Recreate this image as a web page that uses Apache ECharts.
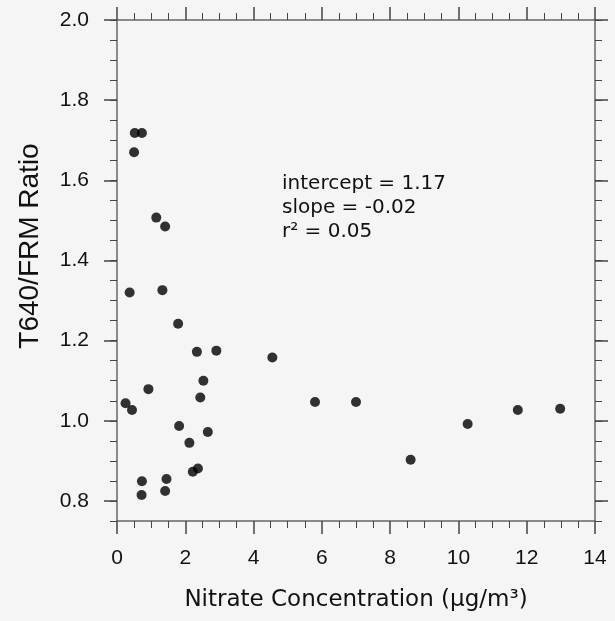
<!DOCTYPE html>
<html>
<head>
<meta charset="utf-8">
<script src="https://cdn.jsdelivr.net/npm/echarts@6/dist/echarts.min.js"></script>
<style>
  html, body { margin: 0; padding: 0; background: #f5f5f5; }
  #chart { width: 615px; height: 621px; }
</style>
</head>
<body>
<div id="chart"></div>
<script>
// 数据：硝酸盐浓度 vs T640/FRM 比值
const nitrate = [0.52, 0.73, 0.50, 1.15, 1.41, 0.37, 1.33, 1.79, 2.34, 2.91, 4.55,
  2.53, 0.92, 2.44, 0.25, 0.44, 5.80, 1.82, 2.66, 2.12, 2.22, 2.37, 0.73, 1.45,
  1.41, 0.72, 7.00, 8.60, 10.27, 11.74, 12.98];
const ratio = [1.718, 1.718, 1.670, 1.507, 1.485, 1.320, 1.326, 1.242, 1.172, 1.175, 1.158,
  1.100, 1.079, 1.058, 1.044, 1.027, 1.047, 0.987, 0.972, 0.945, 0.873, 0.881, 0.849, 0.855,
  0.825, 0.815, 1.047, 0.903, 0.992, 1.027, 1.030];
const yMajor = [0.8, 1.0, 1.2, 1.4, 1.6, 1.8, 2.0];
const statLines = ['intercept = 1.17', 'slope = -0.02', 'r\u00b2 = 0.05'];

const points = nitrate.map((x, i) => [x, ratio[i]]);

const chart = echarts.init(document.getElementById('chart'));

const axisCol = '#666';
const tickCol = '#444';
const labelFont = { fontFamily: 'Liberation Sans', fontSize: 21, color: '#111' };

// 横轴（下、上）
function xAxisOf(pos) {
  return {
    type: 'value', position: pos, min: 0, max: 14, interval: 2,
    axisLine: { show: true, onZero: false, lineStyle: { color: axisCol, width: 1.5 } },
    axisTick: { show: true, length: 13, lineStyle: { color: tickCol, width: 1.5 } },
    minorTick: { show: true, splitNumber: 4, length: 7, lineStyle: { color: tickCol, width: 1 } },
    splitLine: { show: false },
    axisLabel: pos === 'bottom'
      ? Object.assign({ show: true, margin: 27 }, labelFont)
      : { show: false },
    name: pos === 'bottom' ? 'Nitrate Concentration (\u00b5g/m\u00b3)' : '',
    nameLocation: 'middle', nameGap: 68,
    nameTextStyle: { fontFamily: 'DejaVu Sans', fontSize: 23, color: '#111' }
  };
}

// 纵轴：大刻度一根轴，小刻度一根轴（左、右各一对）
function yMajorOf(pos) {
  return {
    type: 'value', position: pos, min: 0.75, max: 2.0, interval: 0.05,
    axisLine: { show: true, onZero: false, lineStyle: { color: axisCol, width: 1.5 } },
    axisTick: { show: true, length: 13, customValues: yMajor, lineStyle: { color: tickCol, width: 1.5 } },
    splitLine: { show: false },
    axisLabel: pos === 'left'
      ? Object.assign({ show: true, margin: 28, customValues: yMajor,
          formatter: (v) => v.toFixed(1) }, labelFont)
      : { show: false }
  };
}
function yMinorOf(pos) {
  return {
    type: 'value', position: pos, min: 0.75, max: 2.0, interval: 0.05,
    axisLine: { show: false, onZero: false },
    axisTick: { show: true, length: 7, lineStyle: { color: tickCol, width: 1 } },
    splitLine: { show: false },
    axisLabel: { show: false }
  };
}

chart.setOption({
  backgroundColor: '#f5f5f5',
  animation: false,
  grid: { left: 117, right: 20, top: 20, bottom: 100 },
  xAxis: [xAxisOf('bottom'), xAxisOf('top')],
  yAxis: [yMajorOf('left'), yMinorOf('left'), yMajorOf('right'), yMinorOf('right')],
  graphic: [{
    // 纵轴标题（比图区中心略偏上）
    type: 'text', x: 30, y: 246, rotation: Math.PI / 2,
    style: {
      text: 'T640/FRM Ratio', font: '28px "Liberation Sans"', fill: '#111',
      align: 'center', verticalAlign: 'middle'
    }
  }, {
    type: 'text', left: 282, top: 172,
    style: {
      text: statLines.join('\n'),
      font: '20px "DejaVu Sans"', fill: '#111', lineHeight: 24
    }
  }],
  series: [{
    type: 'scatter', xAxisIndex: 0, yAxisIndex: 0,
    symbol: 'circle', symbolSize: 10,
    itemStyle: { color: '#000' },
    data: points
  }]
});
</script>
</body>
</html>
